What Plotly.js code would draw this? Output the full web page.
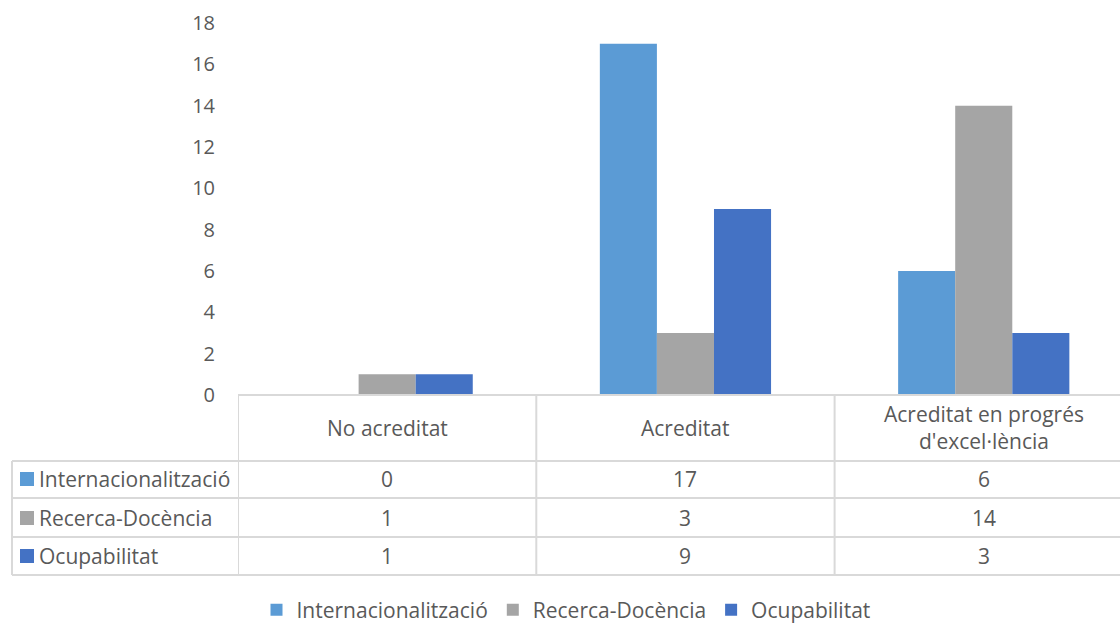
<!DOCTYPE html>
<html>
<head>
<meta charset="utf-8">
<script src="https://cdn.plot.ly/plotly-3.0.1.min.js"></script>
<style>
  html, body { margin: 0; padding: 0; background: #fff; overflow: hidden; }
  #chart { width: 1120px; height: 660px; }
</style>
</head>
<body>
<div id="chart"></div>
<script>
// categories and series
const categories = ['No acreditat', 'Acreditat', "Acreditat en progrés<br>d'excel·lència"];
const seriesNames = ['Internacionalització', 'Recerca-Docència', 'Ocupabilitat'];
const internacionalitzacio = [0, 17, 6];
const recercaDocencia = [1, 3, 14];
const ocupabilitat = [1, 9, 3];
const seriesColors = ['#5B9BD5', '#A5A5A5', '#4472C4'];
const yTicks = [0, 2, 4, 6, 8, 10, 12, 14, 16, 18];

const seriesValues = [internacionalitzacio, recercaDocencia, ocupabilitat];
const xIdx = categories.map((_, i) => i);

const FONT = '"Open Sans", sans-serif';
const TXT = '#595959';
const GRID = '#D9D9D9';

// pixel layout of the Excel-style chart (page is 623 tall, plot is drawn taller
// so the bottom legend does not push the margins)
const W = 1120, H = 660;
const mL = 238, mT = 23, plotBottom = 395;
const plotH = plotBottom - mT;
const plotW = W - mL;
const colW = 298.3;
const toPaperY = py => (plotBottom - py) / plotH;
const toPaperX = px => (px - mL) / plotW;

const traces = seriesNames.map((name, s) => ({
    type: 'bar',
    name: name,
    x: xIdx,
    y: seriesValues[s],
    marker: { color: seriesColors[s] },
    hoverinfo: 'x+y+name',
}));

// data table under the axis
const headerY = toPaperY(428);
const rowPx = [479, 518, 556];
const rowY = rowPx.map(toPaperY);
const annotations = [];
const shapes = [];

categories.forEach((c, i) => {
    annotations.push({
        xref: 'x', yref: 'paper', x: i, y: headerY,
        xanchor: 'center', yanchor: 'middle',
        text: c, showarrow: false, align: 'center',
        font: { family: FONT, size: 21, color: TXT },
    });
});

seriesNames.forEach((name, s) => {
    // legend key in the table
    shapes.push({
        type: 'rect', xref: 'paper', yref: 'paper',
        x0: toPaperX(20), x1: toPaperX(34),
        y0: toPaperY(rowPx[s] - 7), y1: toPaperY(rowPx[s] + 7),
        fillcolor: seriesColors[s], line: { width: 0 },
    });
    annotations.push({
        xref: 'paper', yref: 'paper', x: toPaperX(37), y: rowY[s],
        xanchor: 'left', yanchor: 'middle', showarrow: false,
        text: name,
        font: { family: FONT, size: 21, color: TXT },
    });
    seriesValues[s].forEach((v, i) => {
        annotations.push({
            xref: 'x', yref: 'paper', x: i, y: rowY[s],
            xanchor: 'center', yanchor: 'middle',
            text: String(v), showarrow: false,
            font: { family: FONT, size: 21, color: TXT },
        });
    });
});

const line = { color: GRID, width: 2 };
// horizontal rules
shapes.push({ type: 'line', xref: 'paper', yref: 'paper', x0: 0, x1: 1.02, y0: toPaperY(395), y1: toPaperY(395), line });
[461, 498, 537, 575].forEach(py => {
    shapes.push({ type: 'line', xref: 'paper', yref: 'paper', x0: toPaperX(12), x1: 1.02, y0: toPaperY(py), y1: toPaperY(py), line });
});
// vertical rules
shapes.push({ type: 'line', xref: 'paper', yref: 'paper', x0: toPaperX(12), x1: toPaperX(12), y0: toPaperY(461), y1: toPaperY(575), line });
[-0.5, 0.5, 1.5].forEach(xv => {
    shapes.push({ type: 'line', xref: 'x', yref: 'paper', x0: xv, x1: xv, y0: toPaperY(395), y1: toPaperY(575), line });
});

const layout = {
    width: W,
    height: H,
    margin: { l: mL, r: 0, t: mT, b: H - plotBottom },
    paper_bgcolor: '#ffffff',
    plot_bgcolor: '#ffffff',
    barmode: 'group',
    bargap: 0.426,
    bargroupgap: 0,
    showlegend: true,
    legend: {
        orientation: 'h',
        x: toPaperX(566), xanchor: 'center',
        y: toPaperY(610), yanchor: 'middle',
        font: { family: FONT, size: 21, color: TXT },
        itemwidth: 30,
        itemgap: 10,
        traceorder: 'normal',
    },
    xaxis: {
        range: [-0.5, -0.5 + plotW / colW],
        showticklabels: false,
        showgrid: false,
        zeroline: false,
        showline: false,
        ticks: '',
        fixedrange: true,
    },
    yaxis: {
        range: [0, 18],
        tickvals: yTicks,
        showgrid: false,
        zeroline: false,
        showline: false,
        ticks: '',
        ticklabelstandoff: 22,
        tickfont: { family: FONT, size: 20, color: TXT },
        fixedrange: true,
    },
    annotations,
    shapes,
};

Plotly.newPlot('chart', traces, layout, { displayModeBar: false, staticPlot: true });
</script>
</body>
</html>
